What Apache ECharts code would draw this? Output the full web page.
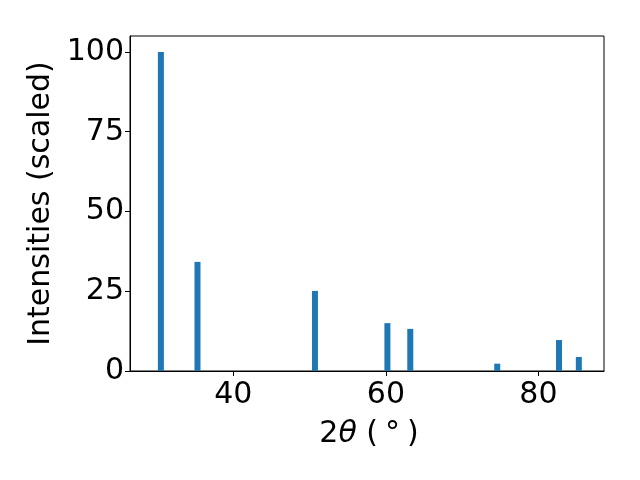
<!DOCTYPE html>
<html><head><meta charset="utf-8">
<script src="https://cdn.jsdelivr.net/npm/echarts@6/dist/echarts.min.js"></script>
<style>html,body{margin:0;padding:0;background:#fff}#c{width:640px;height:480px}</style>
</head><body><div id="c"></div>
<script>
const twoTheta = [30.5, 35.3, 50.7, 60.2, 63.2, 74.6, 82.7, 85.3];
const intensity = [100, 34.2, 25.1, 15.0, 13.2, 2.3, 9.7, 4.4];
const xTicks = [40, 60, 80];
const yTicks = [0, 25, 50, 75, 100];

const font = 'DejaVu Sans';
const chart = echarts.init(document.getElementById('c'), null, {renderer: 'canvas'});
chart.setOption({
  animation: false,
  backgroundColor: '#fff',
  grid: {left: 130, right: 36, top: 36, bottom: 109, show: true, borderColor: '#000', borderWidth: 1, backgroundColor: 'transparent'},
  xAxis: {
    type: 'value', min: 26.45, max: 88.6,
    axisLine: {show: true, lineStyle: {color: '#000', width: 1}},
    axisTick: {show: true, inside: false, length: 5, lineStyle: {color: '#000'}, customValues: xTicks},
    axisLabel: {color: '#000', fontFamily: font, fontSize: 30, margin: 9, customValues: xTicks},
    splitLine: {show: false},
    name: '2{i|θ} ({s| }°{s| })', nameLocation: 'middle', nameGap: 48,
    nameTextStyle: {color: '#000', fontFamily: font, fontSize: 30, padding: [0, 0, 0, 4],
      rich: {i: {fontStyle: 'italic', fontFamily: font, fontSize: 30, color: '#000'},
             s: {fontFamily: font, fontSize: 22, color: '#000'}}}
  },
  yAxis: {
    type: 'value', min: 0, max: 105,
    axisLine: {show: true, lineStyle: {color: '#000', width: 1}},
    axisTick: {show: true, inside: false, length: 5, lineStyle: {color: '#000'}, customValues: yTicks},
    axisLabel: {color: '#000', fontFamily: font, fontSize: 30, margin: 6, customValues: yTicks},
    splitLine: {show: false},
    name: 'Intensities (scaled)', nameLocation: 'middle', nameGap: 67,
    nameTextStyle: {color: '#000', fontFamily: font, fontSize: 30}
  },
  series: [{
    type: 'bar', barWidth: 6,
    itemStyle: {color: '#1f77b4'},
    data: twoTheta.map((x, i) => [x, intensity[i]])
  }]
});
</script></body></html>
